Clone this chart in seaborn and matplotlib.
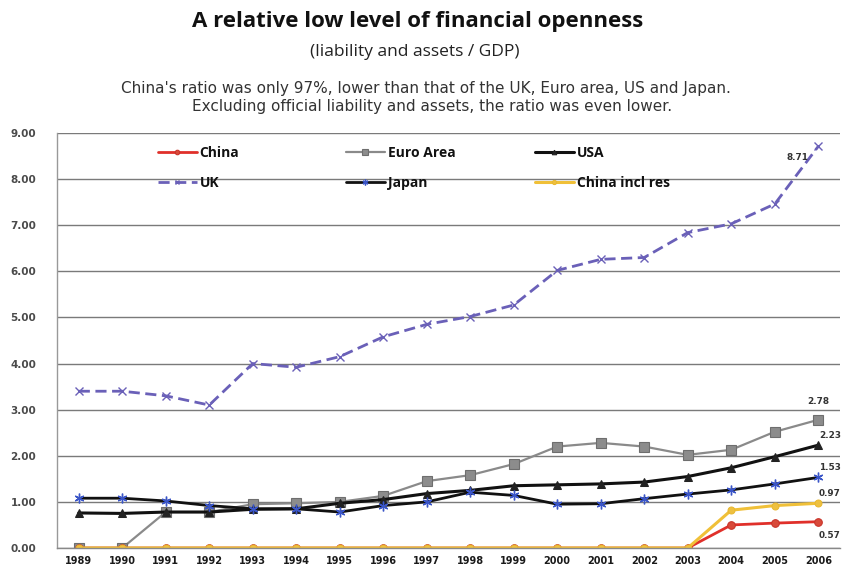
import matplotlib
matplotlib.use("Agg")
import matplotlib.pyplot as plt
from matplotlib.legend import Legend
import seaborn as sns
import numpy as np

years = ["1989", "1990", "1991", "1992", "1993", "1994", "1995", "1996", "1997",
         "1998", "1999", "2000", "2001", "2002", "2003", "2004", "2005", "2006"]
uk = [3.40, 3.40, 3.30, 3.10, 4.00, 3.92, 4.15, 4.58, 4.85, 5.02, 5.27, 6.02, 6.26, 6.30, 6.84, 7.03, 7.46, 8.71]
euro = [0.00, 0.00, 0.78, 0.78, 0.95, 0.97, 1.00, 1.13, 1.45, 1.58, 1.82, 2.20, 2.28, 2.20, 2.02, 2.13, 2.52, 2.78]
usa = [0.76, 0.75, 0.78, 0.78, 0.84, 0.85, 0.97, 1.05, 1.18, 1.25, 1.35, 1.37, 1.39, 1.43, 1.55, 1.74, 1.98, 2.23]
japan = [1.08, 1.08, 1.02, 0.92, 0.85, 0.85, 0.78, 0.92, 1.00, 1.21, 1.14, 0.95, 0.96, 1.07, 1.17, 1.26, 1.39, 1.53]
china = [0, 0, 0, 0, 0, 0, 0, 0, 0, 0, 0, 0, 0, 0, 0, 0.50, 0.54, 0.57]
china_res = [0, 0, 0, 0, 0, 0, 0, 0, 0, 0, 0, 0, 0, 0, 0, 0.82, 0.92, 0.97]
yticks = [0, 1, 2, 3, 4, 5, 6, 7, 8, 9]

sns.set_style("white")
plt.rcParams["font.family"] = ["Open Sans", "DejaVu Sans"]

W, H = 844, 570
fig = plt.figure(figsize=(W / 100, H / 100), dpi=100)
ax = fig.add_axes([57 / W, 1 - 548 / H, 783 / W, 415 / H])

xs = np.arange(len(years))

series = {}
def draw(vals, key, **kw):
    sns.lineplot(x=xs, y=vals, ax=ax, legend=False, **kw)
    series[key] = ax.lines[-1]

draw(uk, "UK", color="#6A60B8", linestyle=(0, (4, 2)), linewidth=2.0,
     marker="x", markersize=5.5, markeredgewidth=1.0, markeredgecolor="#6A60B8")
draw(euro, "Euro Area", color="#8A8A8A", linewidth=1.6, marker="s",
     markersize=6.5, markerfacecolor="#8C8C8C", markeredgecolor="#6E6E6E", markeredgewidth=0.8)
draw(usa, "USA", color="#111111", linewidth=2.2, marker="^",
     markersize=5.5, markerfacecolor="#222222", markeredgecolor="#222222")
draw(japan, "Japan", color="#111111", linewidth=2.0, marker=(6, 2, 0),
     markersize=7, markeredgewidth=1.0, markeredgecolor="#3A55C8")
draw(china, "China", color="#E0302A", linewidth=2.0, marker="o",
     markersize=5.5, markerfacecolor="#D84A3A", markeredgecolor="#C83228")
draw(china_res, "China incl res", color="#F0C038", linewidth=2.2, marker="o",
     markersize=5, markerfacecolor="#EEC040", markeredgecolor="#E8B830")

ax.set_xlim(-0.5, len(years) - 0.5)
ax.set_ylim(0, 9)
ax.set_yticks(yticks)
ax.set_yticklabels([f"{v:.2f}" for v in yticks])
ax.set_xticks(xs)
ax.set_xticklabels(years)
ax.set_xticks(np.arange(len(years) + 1) - 0.5, minor=True)
ax.tick_params(axis="x", which="major", length=0, pad=6, labelcolor="#1a1a1a")
ax.tick_params(axis="x", which="minor", length=4, width=0.8, color="#888888", direction="out")
ax.tick_params(axis="y", length=0, pad=15, labelcolor="#4a4a4a")
for lab in ax.get_xticklabels():
    lab.set_fontproperties({"family": "DejaVu Sans", "weight": "bold", "size": 7})
for lab in ax.get_yticklabels():
    lab.set_fontproperties({"family": "DejaVu Sans", "weight": "bold", "size": 7.5})

ax.grid(axis="y", color="#7a7a7a", linewidth=1.0)
ax.set_axisbelow(True)
for s in ["top", "right"]:
    ax.spines[s].set_visible(False)
ax.spines["left"].set_color("#999999")
ax.spines["bottom"].set_color("#888888")
ax.spines["left"].set_linewidth(1.0)
ax.spines["bottom"].set_linewidth(1.0)
ax.set_xlabel("")
ax.set_ylabel("")

# data labels
lab_kw = dict(textcoords="offset points", fontsize=6.4, fontweight="bold", color="#333333",
              family=["DejaVu Sans"], annotation_clip=False)
last = len(years) - 1
ax.annotate(f"{uk[-1]:.2f}", (last, uk[-1]), xytext=(-15, -8), ha="center", va="center", **lab_kw)
ax.annotate(f"{euro[-1]:.2f}", (last, euro[-1]), xytext=(0, 13), ha="center", va="center", **lab_kw)
ax.annotate(f"{usa[-1]:.2f}", (last, usa[-1]), xytext=(0.5, 7), ha="left", va="center", **lab_kw)
ax.annotate(f"{japan[-1]:.2f}", (last, japan[-1]), xytext=(0.5, 7), ha="left", va="center", **lab_kw)
ax.annotate(f"{china_res[-1]:.2f}", (last, china_res[-1]), xytext=(0.5, 7), ha="left", va="center", **lab_kw)
ax.annotate(f"{china[-1]:.2f}", (last, china[-1]), xytext=(0.5, -10), ha="left", va="center", **lab_kw)

# legend in three columns
cols = [(["China", "UK"], 158), (["Euro Area", "Japan"], 346), (["USA", "China incl res"], 535)]
for names, xpix in cols:
    leg = Legend(ax, [series[n] for n in names], names, loc="upper left",
                 bbox_to_anchor=(xpix / W, 1 - 146 / H), bbox_transform=fig.transFigure,
                 frameon=False, handlelength=2.8, handletextpad=0.2, markerscale=0.6,
                 labelspacing=1.15, borderpad=0, borderaxespad=0,
                 prop={"family": ["Open Sans", "DejaVu Sans"], "weight": "bold", "size": 10})
    for t in leg.get_texts():
        t.set_color("#111111")
    ax.add_artist(leg)

# titles
fig.text(418 / W, 1 - 22 / H, "A relative low level of financial openness", ha="center",
         va="center", fontsize=16, fontweight="bold", color="#111111")
fig.text(415 / W, 1 - 52 / H, "(liability and assets / GDP)", ha="center", va="center",
         fontsize=12.5, color="#222222")
fig.text(426 / W, 1 - 88 / H,
         "China's ratio was only 97%, lower than that of the UK, Euro area, US and Japan.",
         ha="center", va="center", fontsize=11, color="#333333",
         family=["DejaVu Sans"])
fig.text(432 / W, 1 - 106 / H,
         "Excluding official liability and assets, the ratio was even lower.",
         ha="center", va="center", fontsize=11, color="#333333",
         family=["DejaVu Sans"])

fig.savefig("out.png", dpi=100)
